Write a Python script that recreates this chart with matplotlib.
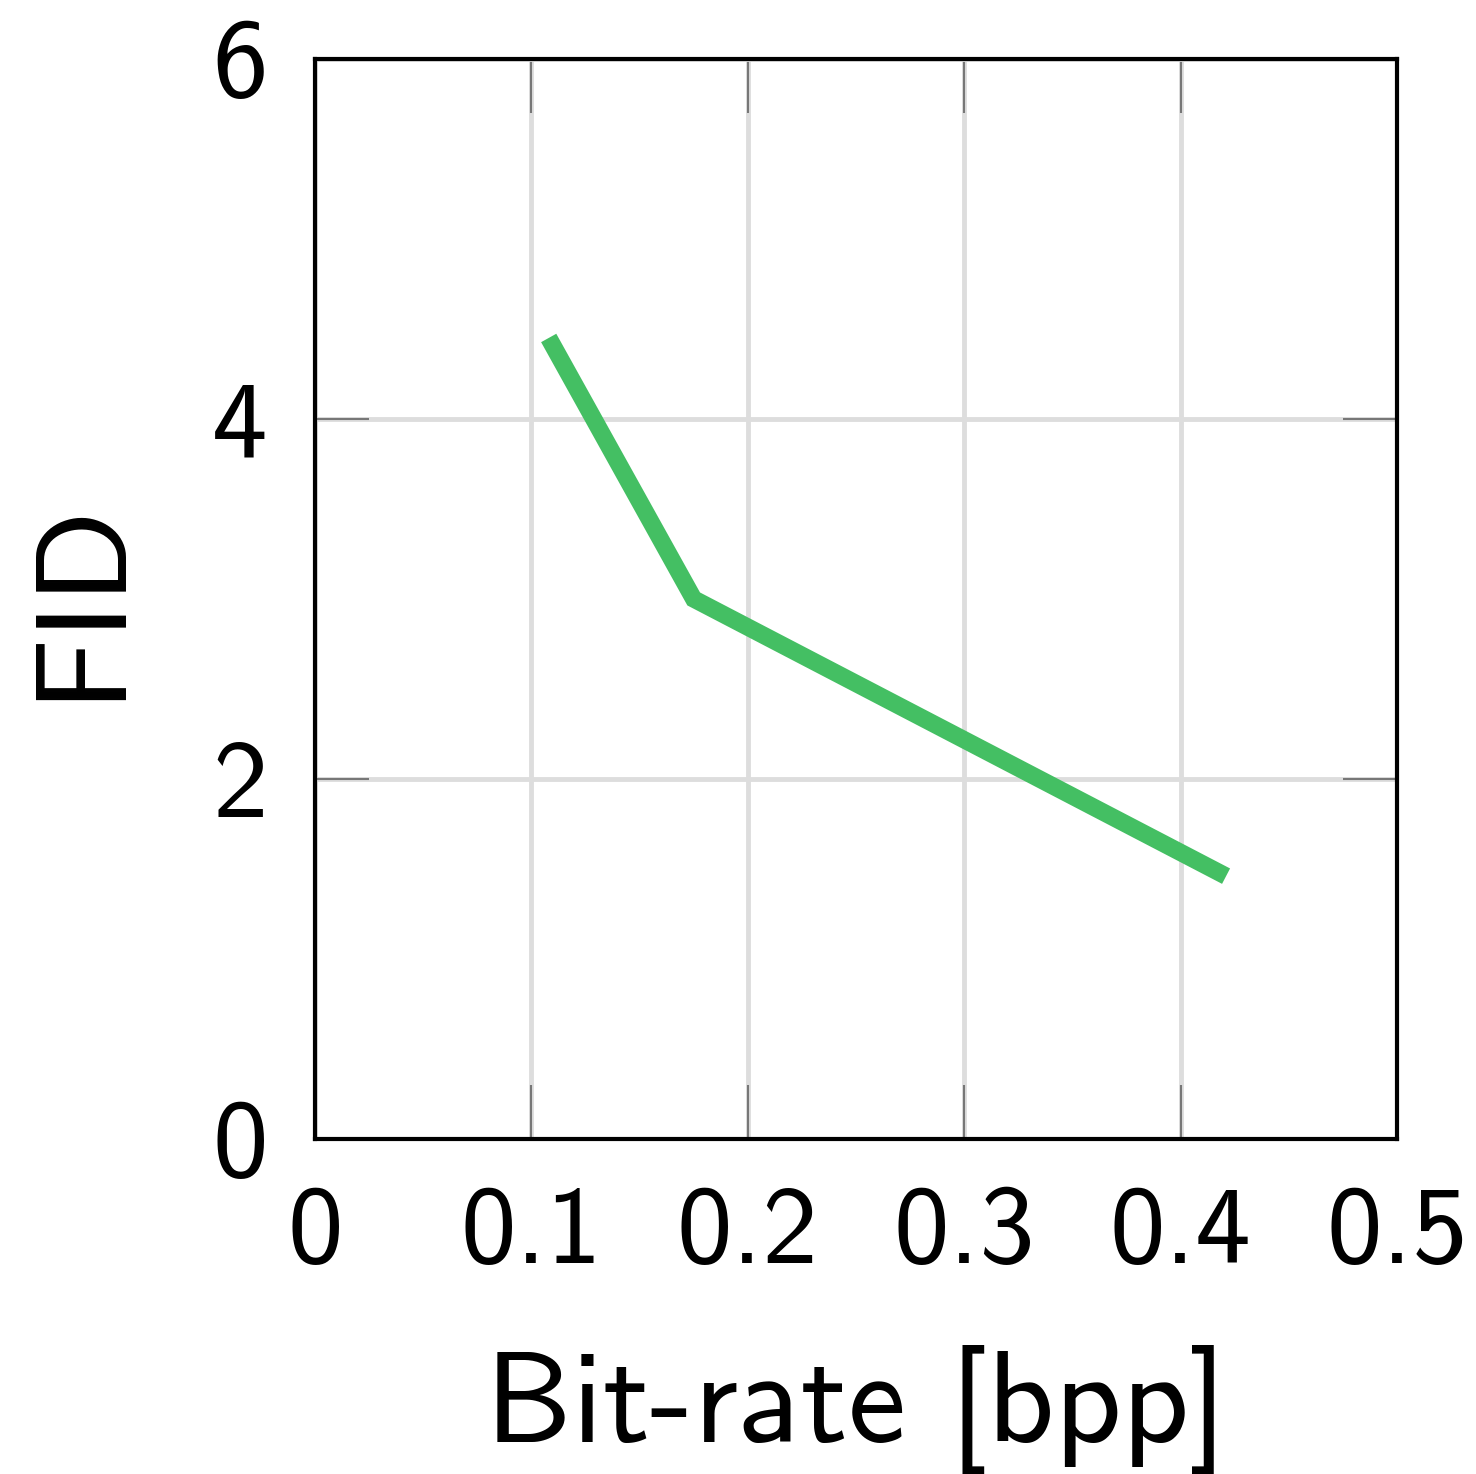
import matplotlib
matplotlib.use("Agg")
import matplotlib.pyplot as plt

bitrate = [0.108, 0.175, 0.421]
fid = [4.45, 3.0, 1.46]
xticks = [0, 0.1, 0.2, 0.3, 0.4, 0.5]
xticklabels = ["0", "0.1", "0.2", "0.3", "0.4", "0.5"]
yticks = [0, 2, 4, 6]
yticklabels = ["0", "2", "4", "6"]

plt.rcParams['font.family'] = ['cmss10', 'DejaVu Sans']
plt.rcParams['axes.unicode_minus'] = False

fig = plt.figure(figsize=(14.76, 14.74), dpi=100)
ax = fig.add_axes([0.2134, 0.2273, 0.7331, 0.7327])

ax.plot(bitrate, fid, color='#44bf63', lw=12.5, solid_capstyle='butt', solid_joinstyle='miter', zorder=3)

ax.set_xlim(0, 0.5)
ax.set_ylim(0, 6)
ax.set_xticks(xticks)
ax.set_xticklabels(xticklabels)
ax.set_yticks(yticks)
ax.set_yticklabels(yticklabels)

ax.grid(True, color='#dddddd', lw=3.5, zorder=0)
ax.set_axisbelow(True)
ax.tick_params(axis='both', direction='in', length=39, width=1.5, color='#777777',
               top=True, right=True, labelsize=80, pad=34)
for s in ax.spines.values():
    s.set_linewidth(3)
    s.set_color('black')
    s.set_zorder(4)

ax.set_xlabel("Bit-rate [bpp]", fontsize=94, labelpad=44)
ax.set_ylabel("FID", fontsize=93, labelpad=52)

fig.savefig("out.png", dpi=100)
